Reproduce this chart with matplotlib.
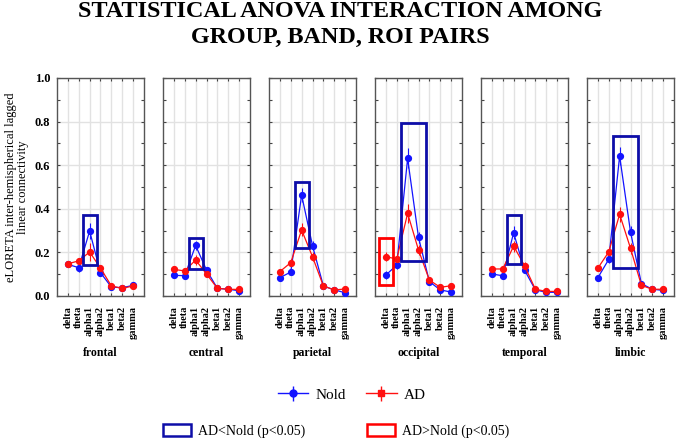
import matplotlib
matplotlib.use("Agg")
import matplotlib.pyplot as plt
from matplotlib.patches import Rectangle, Patch
import numpy as np

plt.rcParams['font.family'] = ['Liberation Serif', 'DejaVu Serif']

title = "STATISTICAL ANOVA INTERACTION AMONG\nGROUP, BAND, ROI PAIRS"
bands = ["delta", "theta", "alpha1", "alpha2", "beta1", "beta2", "gamma"]
rois = ["frontal", "central", "parietal", "occipital", "temporal", "limbic"]

nold = {
    "frontal":   [0.145, 0.130, 0.298, 0.107, 0.041, 0.038, 0.049],
    "central":   [0.095, 0.093, 0.232, 0.119, 0.035, 0.031, 0.024],
    "parietal":  [0.084, 0.110, 0.463, 0.231, 0.046, 0.028, 0.015],
    "occipital": [0.096, 0.142, 0.631, 0.269, 0.066, 0.028, 0.018],
    "temporal":  [0.101, 0.093, 0.290, 0.119, 0.028, 0.017, 0.017],
    "limbic":    [0.084, 0.168, 0.642, 0.294, 0.057, 0.031, 0.026],
}
ad = {
    "frontal":   [0.148, 0.161, 0.202, 0.128, 0.046, 0.035, 0.046],
    "central":   [0.122, 0.115, 0.165, 0.101, 0.035, 0.031, 0.030],
    "parietal":  [0.112, 0.153, 0.303, 0.180, 0.046, 0.028, 0.032],
    "occipital": [0.180, 0.170, 0.379, 0.211, 0.073, 0.040, 0.047],
    "temporal":  [0.124, 0.124, 0.229, 0.139, 0.031, 0.021, 0.021],
    "limbic":    [0.128, 0.202, 0.375, 0.219, 0.049, 0.031, 0.031],
}
nold_err = {
    "frontal":   [0.012, 0.022, 0.038, 0.015, 0.008, 0.006, 0.006],
    "central":   [0.012, 0.012, 0.022, 0.012, 0.006, 0.006, 0.006],
    "parietal":  [0.012, 0.015, 0.034, 0.020, 0.008, 0.006, 0.006],
    "occipital": [0.018, 0.018, 0.046, 0.025, 0.012, 0.008, 0.006],
    "temporal":  [0.012, 0.012, 0.030, 0.015, 0.006, 0.006, 0.006],
    "limbic":    [0.012, 0.018, 0.043, 0.025, 0.010, 0.006, 0.006],
}
ad_err = {
    "frontal":   [0.010, 0.012, 0.040, 0.012, 0.006, 0.006, 0.006],
    "central":   [0.010, 0.010, 0.025, 0.012, 0.006, 0.006, 0.006],
    "parietal":  [0.010, 0.015, 0.030, 0.020, 0.006, 0.006, 0.006],
    "occipital": [0.020, 0.015, 0.043, 0.025, 0.010, 0.006, 0.006],
    "temporal":  [0.010, 0.010, 0.025, 0.015, 0.006, 0.006, 0.006],
    "limbic":    [0.012, 0.015, 0.035, 0.025, 0.008, 0.006, 0.006],
}

# significance boxes: (roi, first band, last band, low value, high value, kind)
box_roi   = ["frontal", "central", "parietal", "occipital", "occipital", "temporal", "limbic"]
box_first = ["alpha1", "alpha1", "alpha1", "alpha1", "delta", "alpha1", "alpha1"]
box_last  = ["alpha1", "alpha1", "alpha1", "alpha2", "delta", "alpha1", "alpha2"]
box_lo    = [0.144, 0.122, 0.222, 0.160, 0.050, 0.148, 0.130]
box_hi    = [0.370, 0.266, 0.524, 0.795, 0.266, 0.372, 0.734]
box_kind  = ["less", "less", "less", "less", "greater", "less", "less"]

BLUE = "#1414ff"
RED = "#ff1010"
BOX_BLUE = "#0d0da8"
BOX_RED = "#ff0000"

fig = plt.figure(figsize=(6.8, 4.41), dpi=100)
fig.text(0.5, 1 - 1 / 441, title, ha="center", va="top", fontsize=17.4,
         fontweight="bold", linespacing=1.32)

left0 = 57 / 680
w = 87 / 680
step = 106 / 680
bottom = 1 - 296 / 441
h = 218 / 441

x = np.arange(len(bands))
axes = []
for i, roi in enumerate(rois):
    ax = fig.add_axes([left0 + i * step, bottom, w, h])
    axes.append(ax)
    ax.set_xlim(-1, len(bands))
    ax.set_ylim(0, 1.0)
    ax.set_axisbelow(True)
    ax.grid(True, color="#e2e2e2", lw=1.0)
    ax.set_xticks(x)
    ax.set_xticklabels(bands, rotation=90, fontsize=7.5, fontweight="bold")
    ax.set_yticks([0, 0.2, 0.4, 0.6, 0.8, 1.0])
    ax.set_yticks([0.1, 0.3, 0.5, 0.7, 0.9], minor=True)
    ax.tick_params(axis="both", which="both", direction="in", top=True,
                   right=True, length=2.5, width=0.8, color="#444444")
    ax.tick_params(axis="x", pad=7)
    ax.tick_params(axis="y", pad=5)
    if i == 0:
        ax.set_yticklabels(["0.0", "0.2", "0.4", "0.6", "0.8", "1.0"],
                           fontsize=9, fontweight="bold")
        ax.set_ylabel("eLORETA inter-hemispherical lagged\nlinear connectivity",
                      fontsize=9, labelpad=4, linespacing=1.05)
    else:
        ax.set_yticklabels([])
    for s in ax.spines.values():
        s.set_color("#555555")
        s.set_linewidth(1.0)
    ax.set_xlabel(roi, fontsize=8.5, fontweight="bold", labelpad=6)

    ax.errorbar(x, nold[roi], yerr=nold_err[roi], color=BLUE, lw=0.9,
                marker="o", ms=4.2, elinewidth=0.8, capsize=0, zorder=3)
    ax.errorbar(x, ad[roi], yerr=ad_err[roi], color=RED, lw=0.9,
                marker="o", ms=4.2, elinewidth=0.8, capsize=0, zorder=4)

for roi, f, l, lo, hi, kind in zip(box_roi, box_first, box_last, box_lo, box_hi, box_kind):
    ax = axes[rois.index(roi)]
    x0 = bands.index(f) - 0.65
    x1 = bands.index(l) + 0.65
    ax.add_patch(Rectangle((x0, lo), x1 - x0, hi - lo, fill=False,
                           edgecolor=BOX_BLUE if kind == "less" else BOX_RED,
                           lw=2.0, zorder=5, clip_on=False))

h_nold = axes[0].errorbar([], [], yerr=[], color=BLUE, marker="o", ms=5,
                          lw=1, capsize=4, elinewidth=1)
h_ad = axes[0].errorbar([], [], yerr=[], color=RED, marker="s", ms=5,
                        lw=1, capsize=4, elinewidth=1)
fig.legend([h_nold, h_ad], ["Nold", "AD"], loc="center",
           bbox_to_anchor=(352 / 680, 1 - 395 / 441), ncol=2,
           frameon=False, fontsize=11, handlelength=2.0,
           columnspacing=1.3, handletextpad=0.5)
p1 = Patch(facecolor="none", edgecolor=BOX_BLUE, lw=1.8)
p2 = Patch(facecolor="none", edgecolor=BOX_RED, lw=1.8)
fig.legend([p1, p2], ["AD<Nold (p<0.05)", "AD>Nold (p<0.05)"], loc="center",
           bbox_to_anchor=(336 / 680, 1 - 431 / 441), ncol=2, frameon=False,
           fontsize=10, handlelength=2.0, handleheight=1.0,
           columnspacing=4.5, handletextpad=0.5)

fig.savefig("out.png", dpi=100)
